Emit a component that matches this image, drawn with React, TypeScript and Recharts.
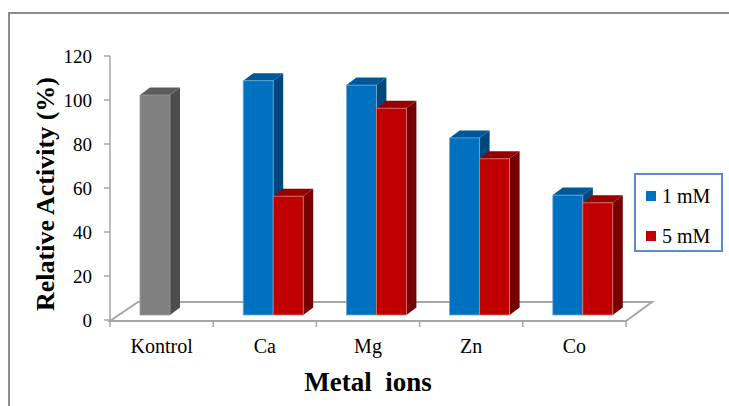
import React from 'react';
import { BarChart, Bar, XAxis, YAxis, Cell } from 'recharts';

const categories = ['Kontrol', 'Ca', 'Mg', 'Zn', 'Co'];
const activity1mM = [100, 106.5, 104.5, 80.5, 54.5];
const activity5mM: (number | null)[] = [null, 54, 94, 71, 51];
const seriesNames = ['1 mM', '5 mM'];
const yTicks = [0, 20, 40, 60, 80, 100, 120];

const data = categories.map((name, i) => ({
    name,
    low: activity1mM[i],
    high: activity5mM[i],
}));

const W = 729;
const H = 406;
const PLOT_L = 110;
const PLOT_R = 626;
const PLOT_T = 56;
const PLOT_B = 320;
const X_AXIS_H = 30;
const BAND_W = (PLOT_R - PLOT_L) / categories.length;

const FONT = "'Liberation Serif', 'DejaVu Serif', serif";
const LINE = '#A6A6A6';
const BLUE = '#0070C0';
const RED = '#C00000';
const GRAY = '#808080';

// fake 3D: front face is pushed back a little, then a side and a top face are added
const SHIFT_X = 8;
const SHIFT_Y = 5;
const DEPTH_X = 10;
const DEPTH_Y = 7.5;

const shades: Record<string, { side: string; top: string; edge: string }> = {
    [BLUE]: { side: '#00487C', top: '#005899', edge: '#6FAADB' },
    [RED]: { side: '#760000', top: '#980000', edge: '#D97A7A' },
    [GRAY]: { side: '#4D4D4D', top: '#5C5C5C', edge: '#9A9A9A' },
};

const Bar3D = (props: any) => {
    const { x, y, width, height, fill } = props;
    if (!(height > 0)) return null;
    const s = shades[fill] || shades[GRAY];
    const fx = x + SHIFT_X;
    const fy = y - SHIFT_Y;
    const r = fx + width;
    const b = fy + height;
    return (
        <g>
            <polygon
                points={`${r},${fy} ${r + DEPTH_X},${fy - DEPTH_Y} ${r + DEPTH_X},${b - DEPTH_Y} ${r},${b}`}
                fill={s.side}
            />
            <polygon
                points={`${fx},${fy} ${fx + DEPTH_X},${fy - DEPTH_Y} ${r + DEPTH_X},${fy - DEPTH_Y} ${r},${fy}`}
                fill={s.top}
            />
            <rect x={fx} y={fy} width={width} height={height} fill={fill} stroke={s.edge} strokeWidth={0.8} />
        </g>
    );
};

// category label plus the small tick marks between categories
const CategoryTick = (props: any) => {
    const { x, y, payload, index } = props;
    const left = x - BAND_W / 2;
    return (
        <g>
            <line x1={left} y1={y + 1} x2={left} y2={y + 7} stroke={LINE} strokeWidth={1.5} />
            {index === categories.length - 1 && (
                <line x1={left + BAND_W} y1={y + 1} x2={left + BAND_W} y2={y + 7} stroke={LINE} strokeWidth={1.5} />
            )}
            <text x={x} y={y + 33} textAnchor="middle" style={{ fontFamily: FONT, fontSize: 20 }} fill="#000">
                {payload.value}
            </text>
        </g>
    );
};

const XTitle = (props: any) => {
    const vb = props.viewBox;
    return (
        <text
            x={vb.x + vb.width / 2}
            y={vb.y + 71}
            textAnchor="middle"
            fill="#000"
            style={{ fontFamily: FONT, fontSize: 27, fontWeight: 'bold', whiteSpace: 'pre' }}
        >
            Metal  ions
        </text>
    );
};

const YTitle = (props: any) => {
    const vb = props.viewBox;
    const cx = vb.x + 54;
    const cy = vb.y + vb.height / 2 + 6;
    return (
        <text
            x={cx}
            y={cy}
            transform={`rotate(-90 ${cx} ${cy})`}
            textAnchor="middle"
            fill="#000"
            style={{ fontFamily: FONT, fontSize: 26, fontWeight: 'bold' }}
        >
            Relative Activity (%)
        </text>
    );
};

const App = () => {
    const legendItems = [
        { name: seriesNames[0], color: BLUE },
        { name: seriesNames[1], color: RED },
    ];

    return (
        <div style={{ position: 'absolute', left: 0, top: 0, width: W, height: H, background: '#fff', overflow: 'hidden', fontFamily: FONT }}>
            {/* outer frame and the floor of the plot */}
            <svg width={W} height={H} style={{ position: 'absolute', left: 0, top: 0 }}>
                <rect x={9} y={13} width={W + 20} height={H + 20} fill="none" stroke="#8C8C8C" strokeWidth={2} />
                <polygon
                    points={`${PLOT_L},${PLOT_B + 1} ${PLOT_L + 28},${PLOT_B - 18} ${PLOT_R + 26},${PLOT_B - 18} ${PLOT_R},${PLOT_B + 1}`}
                    fill="#fff"
                    stroke={LINE}
                    strokeWidth={2}
                />
            </svg>

            <div style={{ position: 'absolute', left: 0, top: 0 }}>
                <BarChart
                    width={W}
                    height={H}
                    data={data}
                    margin={{ top: PLOT_T, right: W - PLOT_R, left: 0, bottom: H - PLOT_B - X_AXIS_H }}
                    barCategoryGap={22}
                    barGap={0}
                >
                    <XAxis
                        dataKey="name"
                        height={X_AXIS_H}
                        axisLine={false}
                        tickLine={false}
                        tickSize={0}
                        tickMargin={0}
                        interval={0}
                        tick={<CategoryTick />}
                        label={(p: any) => <XTitle {...p} />}
                    />
                    <YAxis
                        type="number"
                        domain={[0, 120]}
                        ticks={yTicks}
                        width={PLOT_L}
                        axisLine={{ stroke: LINE, strokeWidth: 1.5 }}
                        tickLine={{ stroke: LINE, strokeWidth: 1.5 }}
                        tickSize={6}
                        tickMargin={12}
                        tick={{ fontFamily: FONT, fontSize: 19, fill: '#000', style: { fontFamily: FONT } }}
                        label={(p: any) => <YTitle {...p} />}
                    />
                    <Bar dataKey="low" name={seriesNames[0]} fill={BLUE} shape={<Bar3D />} isAnimationActive={false}>
                        {activity1mM.map((_, i) => (
                            <Cell key={`low-${i}`} fill={i === 0 ? GRAY : BLUE} />
                        ))}
                    </Bar>
                    <Bar dataKey="high" name={seriesNames[1]} fill={RED} shape={<Bar3D />} isAnimationActive={false} />
                </BarChart>
            </div>

            <div
                style={{
                    position: 'absolute',
                    left: 634,
                    top: 173,
                    width: 89,
                    height: 79,
                    boxSizing: 'border-box',
                    border: '2px solid #5B8CC8',
                    background: '#fff',
                    fontSize: 20,
                }}
            >
                {legendItems.map((item, i) => (
                    <div
                        key={item.name}
                        style={{ position: 'absolute', left: 10, top: 10 + i * 40, height: 22, display: 'flex', alignItems: 'center' }}
                    >
                        <span style={{ width: 10, height: 10, background: item.color, display: 'inline-block', marginRight: 6 }} />
                        <span>{item.name}</span>
                    </div>
                ))}
            </div>
        </div>
    );
};

export default App;
